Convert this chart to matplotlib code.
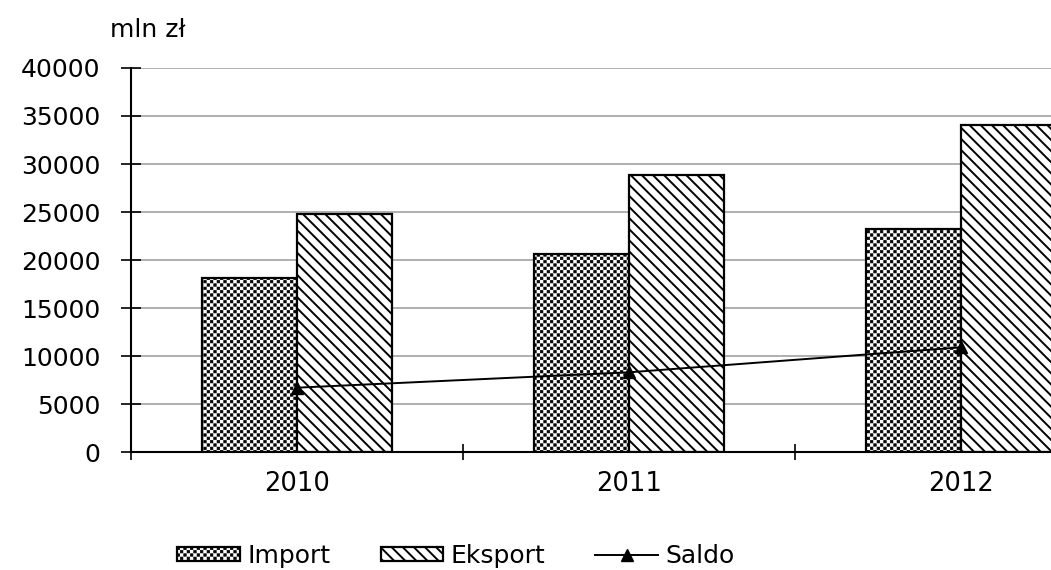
import warnings
import numpy as np
import matplotlib
matplotlib.use('Agg')
import matplotlib.pyplot as plt
import matplotlib.hatch as mhatch
from matplotlib.path import Path

warnings.filterwarnings('ignore')

years = ['2010', '2011', '2012']
imports = [18100, 20600, 23200]
exports = [24800, 28900, 34100]
saldo = [6700, 8300, 10900]
y_ticks = [0, 5000, 10000, 15000, 20000, 25000, 30000, 35000, 40000]


# checkerboard hatch ("c"), not available in matplotlib by default
class CheckerHatch(mhatch.HatchPatternBase):
    def __init__(self, hatch, density):
        self.n = hatch.count('c') * density
        if self.n % 2:
            self.n += 1
        self.num_vertices = (self.n * self.n // 2) * 5

    def set_vertices_and_codes(self, vertices, codes):
        s = 1.0 / self.n
        g = s * 0.13
        k = 0
        for i in range(self.n):
            for j in range(self.n):
                if (i + j) % 2:
                    continue
                x0, y0 = j * s + g, i * s + g
                x1, y1 = (j + 1) * s - g, (i + 1) * s - g
                vertices[k:k + 5] = [[x0, y0], [x1, y0], [x1, y1], [x0, y1], [x0, y0]]
                codes[k:k + 5] = [Path.MOVETO, Path.LINETO, Path.LINETO,
                                  Path.LINETO, Path.CLOSEPOLY]
                k += 5


mhatch._hatch_types.append(CheckerHatch)


def set_hlw(patches, lw):
    for p in patches:
        if hasattr(p, 'set_hatch_linewidth'):
            p.set_hatch_linewidth(lw)


plt.rcParams['font.family'] = ['DejaVu Sans']
fig = plt.figure(figsize=(10.51, 5.70), dpi=100)
ax = fig.add_axes([131 / 1051, 118 / 570, 996 / 1051, 384 / 570])

x = np.arange(len(years))
w = 0.286

with plt.rc_context({'hatch.linewidth': 0.5}):
    b1 = ax.bar(x - w / 2, imports, w, color='white', edgecolor='black',
                linewidth=1.6, hatch='ccccc', label='Import', zorder=2)
set_hlw(b1, 0.5)
with plt.rc_context({'hatch.linewidth': 1.4}):
    b2 = ax.bar(x + w / 2, exports, w, color='white', edgecolor='black',
                linewidth=1.6, hatch='\\\\\\', label='Eksport', zorder=2)
set_hlw(b2, 1.4)

ln, = ax.plot(x, saldo, color='black', lw=1.4, marker='^', markersize=8.5,
              label='Saldo', zorder=4)

ax.set_xlim(-0.5, 2.5)
ax.set_ylim(0, 40000)
ax.set_yticks(y_ticks)
ax.set_yticklabels([str(v) for v in y_ticks])
ax.set_xticks(x)
ax.set_xticklabels(years)
ax.set_xticks(np.arange(-0.5, 3.0, 1.0), minor=True)

ax.tick_params(axis='y', direction='inout', length=15, width=1.2,
               pad=14.5, labelsize=18, colors='black')
ax.tick_params(axis='x', which='major', length=0, pad=13.5, labelsize=18.5)
ax.tick_params(axis='x', which='minor', direction='inout', length=11.5, width=1.2)

ax.grid(axis='y', color='#9a9a9a', linewidth=1.1, zorder=0)
ax.set_axisbelow(True)
for side in ['top', 'right']:
    ax.spines[side].set_visible(False)
for side in ['left', 'bottom']:
    ax.spines[side].set_linewidth(1.5)
    ax.spines[side].set_color('black')

fig.text(110 / 1051, 1 - 30 / 570, 'mln zł', fontsize=18, va='center', ha='left')

leg = fig.legend(handles=[b1, b2, ln], loc='center', ncol=3, frameon=False,
                 bbox_to_anchor=(456 / 1051, 1 - 556 / 570), fontsize=18,
                 handlelength=2.5, handleheight=0.5, handletextpad=0.3,
                 columnspacing=2.0, borderpad=0)
lp = leg.get_patches()
set_hlw(lp[:1], 0.5)
set_hlw(lp[1:2], 1.4)

fig.savefig('out.png', dpi=100)
